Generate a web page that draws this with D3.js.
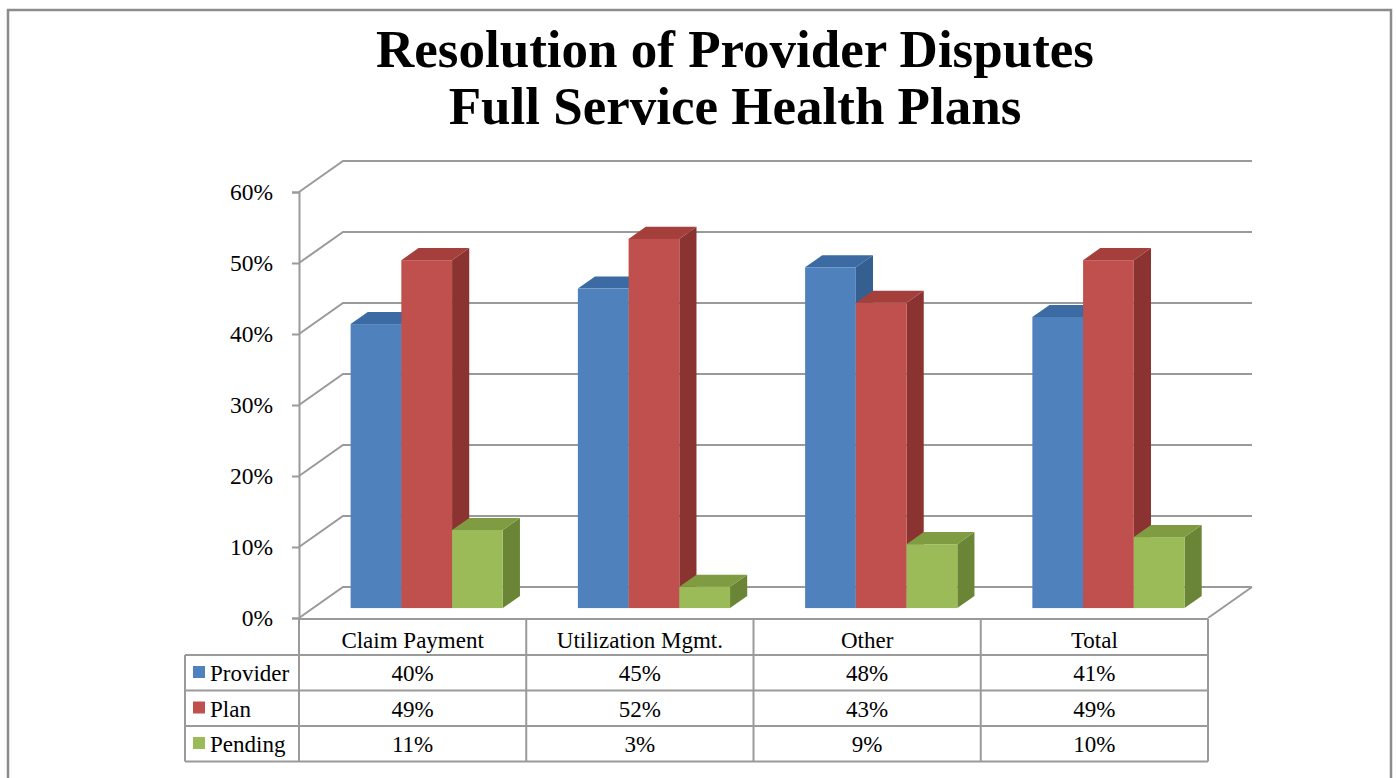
<!DOCTYPE html>
<html>
<head>
<meta charset="utf-8">
<script src="https://cdn.jsdelivr.net/npm/d3@7"></script>
<style>
  body { margin: 0; background: #fff; }
  text { font-family: "Liberation Serif", "Times New Roman", serif; }
</style>
</head>
<body>
<div id="chart"></div>
<script>
const categories = ['Claim Payment', 'Utilization Mgmt.', 'Other', 'Total'];
const series = ['Provider', 'Plan', 'Pending'];
const provider = [0.40, 0.45, 0.48, 0.41];
const plan = [0.49, 0.52, 0.43, 0.49];
const pending = [0.11, 0.03, 0.09, 0.10];
const yTicks = [0, 0.1, 0.2, 0.3, 0.4, 0.5, 0.6];
const titleLines = ['Resolution of Provider Disputes', 'Full Service Health Plans'];

const values = [provider, plan, pending];
const colors = {
  Provider: { front: '#4f81bd', top: '#3c6aa3', side: '#365f91' },
  Plan: { front: '#c0504d', top: '#a43f3c', side: '#8a3331' },
  Pending: { front: '#9bbb59', top: '#7f9c43', side: '#6b8536' }
};

const width = 1396, height = 778;
const depth = { dx: 44, dy: -31 };
const barDepth = [0.32, 0.71];
const grid = '#9a9a9a';
const serif = '"Liberation Serif", "Times New Roman", serif';

const svg = d3.select('#chart')
  .append('svg')
  .attr('width', width)
  .attr('height', height);

// outer frame
svg.append('path')
  .attr('d', 'M8,790 L8,10 L1391,10 L1391,790')
  .attr('fill', 'none')
  .attr('stroke', '#8c8c8c')
  .attr('stroke-width', 2.5);

svg.selectAll('text.title')
  .data(titleLines)
  .join('text')
  .attr('class', 'title')
  .attr('x', 735)
  .attr('y', (d, i) => 67 + i * 57)
  .attr('text-anchor', 'middle')
  .attr('font-size', 53)
  .attr('font-weight', 'bold')
  .attr('font-family', serif)
  .text((d) => d);

const x = d3.scaleBand()
  .domain(categories)
  .range([299, 1208]);

const xs = d3.scaleBand()
  .domain(series)
  .range([0, x.bandwidth()])
  .paddingOuter(0.74);

const y = d3.scaleLinear()
  .domain([0, 0.6])
  .range([618, 192]);

// walls: gridlines on left side wall and back wall
const gridG = svg.append('g');
yTicks.forEach((t) => {
  const yf = y(t);
  gridG.append('path')
    .attr('d', `M299,${yf} L${299 + depth.dx},${yf + depth.dy} L${1208 + depth.dx},${yf + depth.dy}`)
    .attr('fill', 'none')
    .attr('stroke', grid)
    .attr('stroke-width', 2);
});
// floor right edge
gridG.append('line')
  .attr('x1', 1208).attr('y1', y(0))
  .attr('x2', 1208 + depth.dx).attr('y2', y(0) + depth.dy)
  .attr('stroke', grid).attr('stroke-width', 2);

// y axis
const yAxis = svg.append('g')
  .attr('transform', 'translate(299,0)')
  .call(d3.axisLeft(y).tickValues(yTicks).tickFormat(d3.format('.0%')).tickSize(7).tickPadding(19));
yAxis.attr('font-family', serif);
yAxis.select('.domain').attr('stroke', grid).attr('stroke-width', 2);
yAxis.selectAll('.tick line').attr('stroke', grid).attr('stroke-width', 2);
yAxis.selectAll('.tick text')
  .attr('font-size', 23.5)
  .attr('fill', '#000')
  .attr('font-family', serif);

// bars
const bars = [];
categories.forEach((c, ci) => {
  series.forEach((s, si) => {
    bars.push({ cat: c, series: s, value: values[si][ci] });
  });
});

const barG = svg.append('g');
bars.forEach((b) => {
  const x0 = x(b.cat) + xs(b.series) + barDepth[0] * depth.dx;
  const x1 = x0 + xs.bandwidth();
  const yb = y(0) + barDepth[0] * depth.dy;
  const yt = y(b.value) + barDepth[0] * depth.dy;
  const ddx = (barDepth[1] - barDepth[0]) * depth.dx;
  const ddy = (barDepth[1] - barDepth[0]) * depth.dy;
  const col = colors[b.series];
  const g = barG.append('g');
  g.append('path')
    .attr('d', `M${x1},${yb} L${x1 + ddx},${yb + ddy} L${x1 + ddx},${yt + ddy} L${x1},${yt} Z`)
    .attr('fill', col.side);
  g.append('path')
    .attr('d', `M${x0},${yt} L${x0 + ddx},${yt + ddy} L${x1 + ddx},${yt + ddy} L${x1},${yt} Z`)
    .attr('fill', col.top);
  g.append('rect')
    .attr('x', x0)
    .attr('y', yt)
    .attr('width', x1 - x0)
    .attr('height', yb - yt)
    .attr('fill', col.front);
});

// data table
const rowH = 35.5;
const tableTop = y(0) + 1;
const headBottom = tableTop + 36;
const tableG = svg.append('g').attr('font-family', serif);
const line = (x1, y1, x2, y2) => tableG.append('line')
  .attr('x1', x1).attr('y1', y1).attr('x2', x2).attr('y2', y2)
  .attr('stroke', grid).attr('stroke-width', 2);

const tableBottom = headBottom + rowH * series.length;
line(299, tableTop, 1208, tableTop);
line(185, headBottom, 1208, headBottom);
series.forEach((s, i) => line(185, headBottom + rowH * (i + 1), 1208, headBottom + rowH * (i + 1)));
line(185, headBottom, 185, tableBottom);
line(299, y(0), 299, tableBottom);
categories.forEach((c) => line(x(c) + x.bandwidth(), tableTop, x(c) + x.bandwidth(), tableBottom));

tableG.selectAll('text.cat')
  .data(categories)
  .join('text')
  .attr('x', (d) => x(d) + x.bandwidth() / 2)
  .attr('y', headBottom - 7)
  .attr('text-anchor', 'middle')
  .attr('font-size', 23)
  .text((d) => d);

series.forEach((s, si) => {
  const ry = headBottom + rowH * si;
  tableG.append('rect')
    .attr('x', 193).attr('y', ry + 11)
    .attr('width', 12).attr('height', 12)
    .attr('fill', colors[s].front);
  tableG.append('text')
    .attr('x', 210).attr('y', ry + 26)
    .attr('font-size', 23)
    .text(s);
  categories.forEach((c, ci) => {
    tableG.append('text')
      .attr('x', x(c) + x.bandwidth() / 2)
      .attr('y', ry + 26)
      .attr('text-anchor', 'middle')
      .attr('font-size', 23)
      .text(d3.format('.0%')(values[si][ci]));
  });
});
</script>
</body>
</html>
